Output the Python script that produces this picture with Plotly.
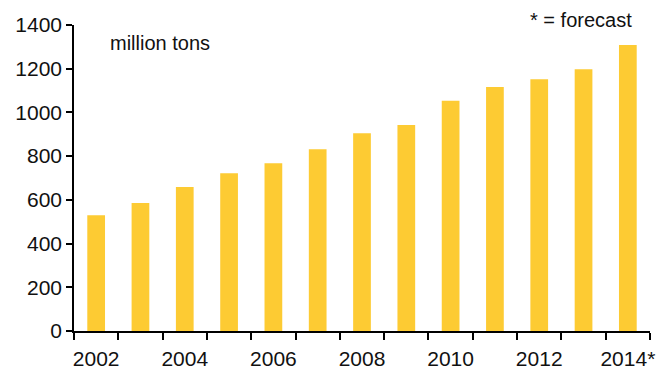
import plotly.graph_objects as go

# Annual production, million tons (2014 is a forecast)
years = ["2002", "2003", "2004", "2005", "2006", "2007", "2008",
         "2009", "2010", "2011", "2012", "2013", "2014"]
production = [530, 586, 659, 722, 768, 832, 905, 942, 1053, 1116, 1152, 1198, 1308]
tick_labels = ["2002", "", "2004", "", "2006", "", "2008",
               "", "2010", "", "2012", "", "2014*"]
y_ticks = [0, 200, 400, 600, 800, 1000, 1200, 1400]

font_family = "Liberation Sans, Arial, sans-serif"
bar_color = "#FDCB33"
text_color = "#111111"

fig = go.Figure(
    go.Bar(x=years, y=production, marker=dict(color=bar_color, line=dict(width=0)))
)

fig.update_layout(
    width=669,
    height=371,
    margin=dict(l=74, r=19, t=25, b=40),
    paper_bgcolor="white",
    plot_bgcolor="white",
    bargap=0.6,
    showlegend=False,
    font=dict(family=font_family, size=21, color=text_color),
    annotations=[
        dict(text="million tons", xref="paper", yref="paper", x=0.059, y=0.941,
             xanchor="left", yanchor="middle", showarrow=False,
             font=dict(size=20, family=font_family, color=text_color)),
        dict(text="* = forecast", xref="paper", yref="paper", x=0.972, y=1.016,
             xanchor="right", yanchor="middle", showarrow=False,
             font=dict(size=20, family=font_family, color=text_color)),
    ],
)

fig.update_xaxes(
    type="category",
    tickmode="array",
    tickvals=years,
    ticktext=tick_labels,
    tickson="boundaries",
    ticks="outside",
    ticklen=7,
    tickwidth=1.5,
    tickcolor="black",
    showline=True,
    linecolor="black",
    linewidth=1.5,
    showgrid=False,
    tickangle=0,
    ticklabelstandoff=8,
    automargin=False,
    tickfont=dict(size=21),
)

fig.update_yaxes(
    range=[0, 1400],
    tickmode="array",
    tickvals=y_ticks,
    ticks="outside",
    ticklen=6,
    tickwidth=1.5,
    tickcolor="black",
    showline=True,
    linecolor="black",
    linewidth=1.5,
    showgrid=False,
    zeroline=False,
    automargin=False,
    tickfont=dict(size=21),
)

fig.write_html("out.html")
